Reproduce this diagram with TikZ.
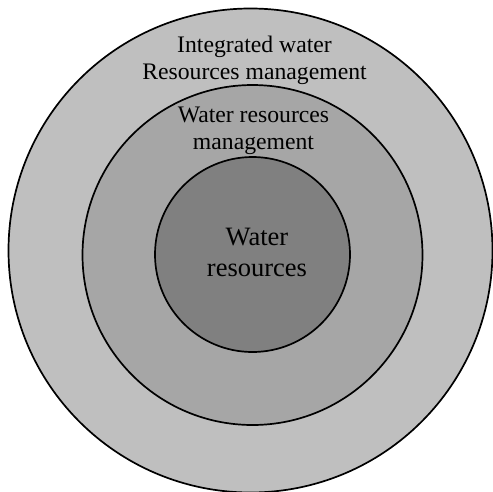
\documentclass[tikz,border=0pt]{standalone}
\usepackage{fontspec}
\setmainfont{Liberation Serif}
\begin{document}
\begin{tikzpicture}[x=1pt, y=-1pt,
	ring/.style={draw=black, line width=1.7pt},
	lbl/.style={align=center, inner sep=0pt, font=\fontsize{23.7}{27}\selectfont},
	core/.style={align=center, inner sep=0pt, font=\fontsize{26.5}{31}\selectfont}]

 \useasboundingbox (0,0) rectangle (493,491);
 \path[fill=white] (0,0) rectangle (493,491);

 % rings
 \draw [ring, fill={rgb,255:red,191;green,191;blue,191}] (250.5,250.5) circle [radius=242];
 \draw [ring, fill={rgb,255:red,166;green,166;blue,166}] (252.5,255) circle [radius=170];
 \draw [ring, fill={rgb,255:red,128;green,128;blue,128}] (252.5,254.5) circle [radius=97.5];

 \node (iwrm) [lbl] at (254.5,60) {Integrated water\\Resources management};
 \node (wrm) [lbl] at (253.5,131.2) {Water resources\\management};
 \node (wr) [core] at (257,252) {Water\\resources};
\end{tikzpicture}
\end{document}
